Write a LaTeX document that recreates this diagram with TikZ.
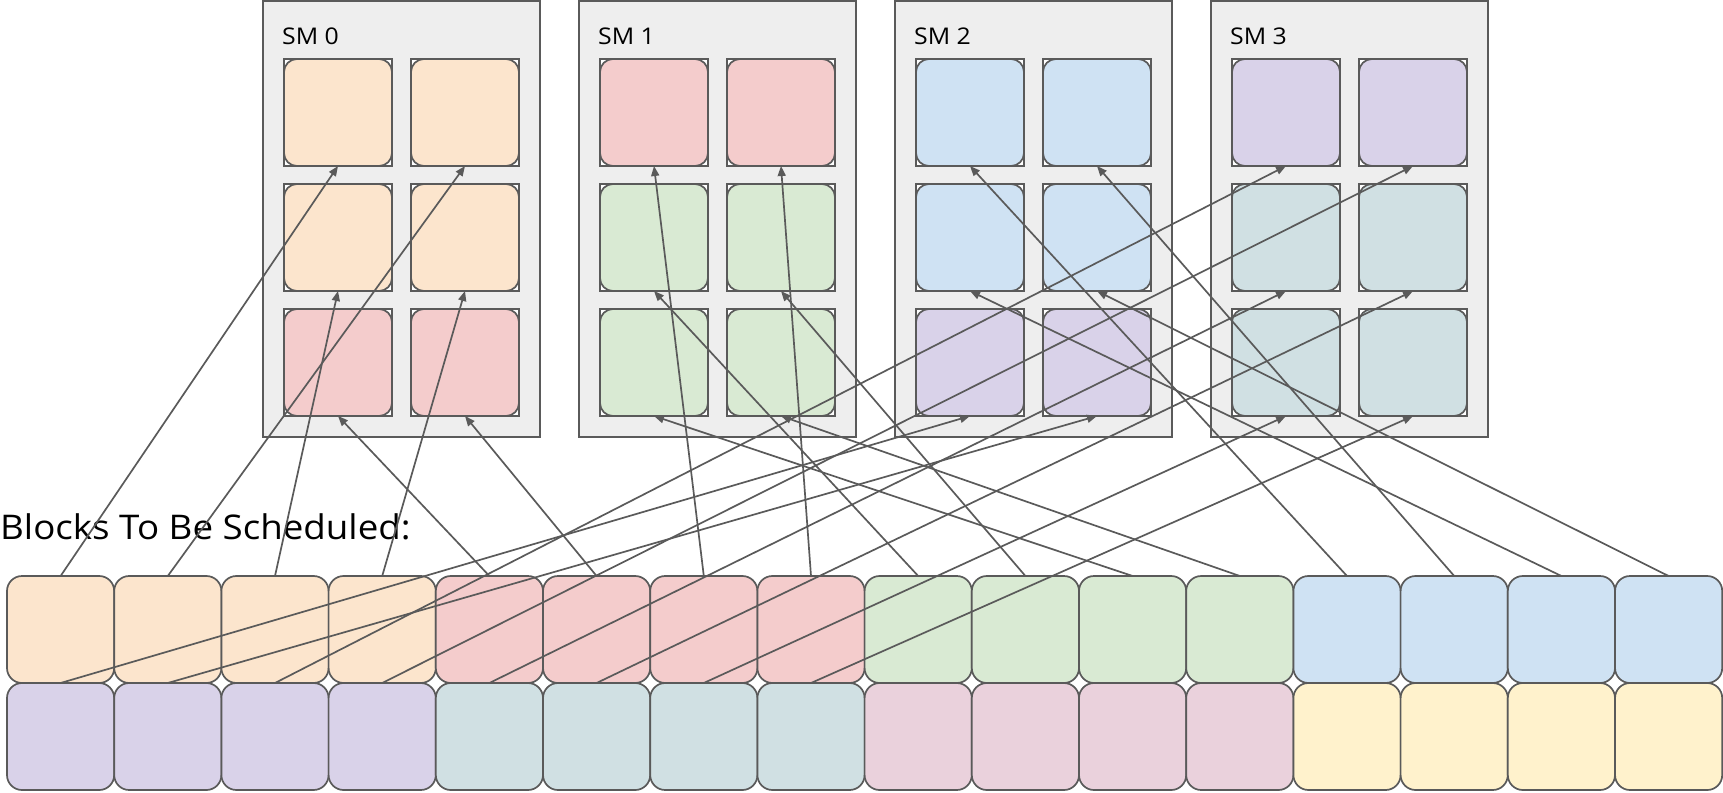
\documentclass[tikz,border=0pt]{standalone}
\usepackage{fontspec}
\setmainfont{Open Sans}
\newfontfamily\widesans[FakeStretch=1.08]{Open Sans}
\usetikzlibrary{arrows.meta}

\definecolor{peach}{HTML}{FCE5CD}
\definecolor{rose}{HTML}{F4CCCC}
\definecolor{mint}{HTML}{D9EAD3}
\definecolor{sky}{HTML}{CFE2F3}
\definecolor{lilac}{HTML}{D9D2E9}
\definecolor{slate}{HTML}{D0E0E3}
\definecolor{blush}{HTML}{EAD1DC}
\definecolor{cream}{HTML}{FFF2CC}
\definecolor{panel}{HTML}{EEEEEE}
\definecolor{ink}{HTML}{5A5A5A}

\tikzset{
  smbox/.style={draw=ink, line width=1.9pt, fill=panel, minimum width=277pt,
    minimum height=436pt, inner sep=0pt, outer sep=0pt},
  smlabel/.style={anchor=base west, inner sep=0pt, font=\widesans\fontsize{23}{27}\selectfont},
  slotframe/.style={draw=ink, line width=1.7pt, fill=white},
  slotbox/.style={draw=ink, line width=1.7pt, rounded corners=13pt,
    minimum width=108pt, minimum height=107pt, inner sep=0pt, outer sep=0pt},
  block/.style={draw=ink, line width=1.7pt, rounded corners=15pt,
    minimum width=107.2pt, minimum height=107pt, inner sep=0pt, outer sep=0pt},
  link/.style={draw=ink, line width=1.7pt, -{Triangle[length=10pt,width=8pt]}},
  title/.style={anchor=base west, inner sep=0pt, font=\widesans\fontsize{34}{40}\selectfont}
}

\begin{document}
\begin{tikzpicture}[x=1pt,y=-1pt]
\useasboundingbox (0,0) rectangle (1723,792);

% streaming multiprocessors with their six slots each
\foreach \m/\ca/\cb/\cc in {0/peach/peach/rose, 1/rose/mint/mint, 2/sky/sky/lilac, 3/lilac/slate/slate} {
  \pgfmathsetmacro\sx{263+316*\m}
  \node[smbox] (sm\m) at (\sx+138.5, 219) {};
  \node[smlabel] (lab\m) at (\sx+19, 45) {SM \m};
  \foreach \r/\col in {1/\ca, 2/\cb, 3/\cc} {
    \foreach \c in {1,2} {
      \pgfmathsetmacro\qx{\sx+21+127*(\c-1)}
      \pgfmathsetmacro\qy{59+125*(\r-1)}
      \draw[slotframe] (\qx,\qy) rectangle ++(108,107);
      \node[slotbox, fill=\col] (s\m\r\c) at (\qx+54, \qy+53.5) {};
    }
  }
}

% queue of thread blocks
\node[title] (queue) at (0,539) {Blocks To Be Scheduled:};
\foreach \i/\ct/\cb in {0/peach/lilac, 1/peach/lilac, 2/peach/lilac, 3/peach/lilac,
                        4/rose/slate, 5/rose/slate, 6/rose/slate, 7/rose/slate,
                        8/mint/blush, 9/mint/blush, 10/mint/blush, 11/mint/blush,
                        12/sky/cream, 13/sky/cream, 14/sky/cream, 15/sky/cream} {
  \pgfmathsetmacro\bx{7+107.2*\i+53.6}
  \node[block, fill=\ct] (t\i) at (\bx, 629.5) {};
  \node[block, fill=\cb] (b\i) at (\bx, 736.5) {};
}

% assignments of blocks to slots
\foreach \src/\dst in {t0/s011, t1/s012, t2/s021, t3/s022, t4/s031, t5/s032,
                       t6/s111, t7/s112, t8/s121, t9/s122, t10/s131, t11/s132,
                       t12/s211, t13/s212, t14/s221, t15/s222, b0/s231, b1/s232,
                       b2/s311, b3/s312, b4/s321, b5/s322, b6/s331, b7/s332} {
  \draw[link] (\src.north) -- (\dst.south);
}
\end{tikzpicture}
\end{document}
